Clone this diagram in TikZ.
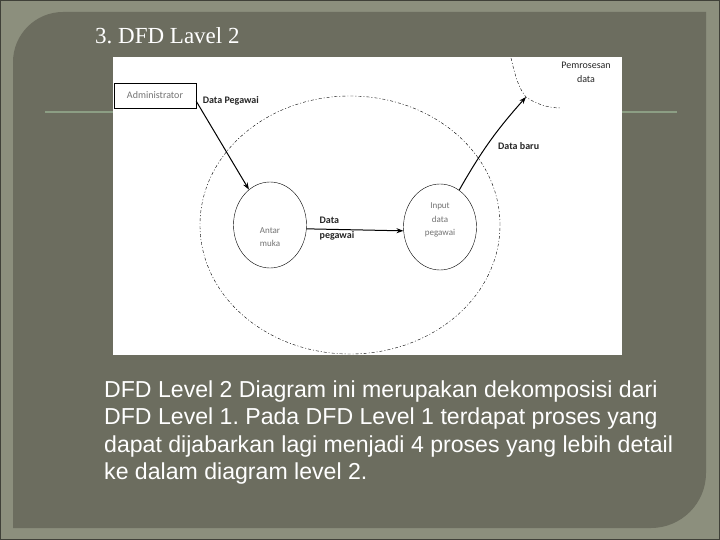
\documentclass[tikz,border=0pt]{standalone}
\usepackage{fontspec}
\setmainfont{Liberation Sans}
\newfontfamily\titlefont{Liberation Serif}
\newfontfamily\diagfont{Carlito}
\usetikzlibrary{arrows.meta,shapes.geometric}
\definecolor{slideout}{RGB}{140,143,125}
\definecolor{slidein}{RGB}{108,109,95}
\definecolor{slideline}{RGB}{140,158,132}
\definecolor{proctext}{RGB}{115,115,115}
\frenchspacing
\begin{document}
\begin{tikzpicture}[x=1pt,y=-1pt,
    proc/.style={ellipse,draw,thin,minimum width=73pt,minimum height=86pt,inner sep=0pt},
    procname/.style={align=center,inner sep=0pt,text=proctext,font=\diagfont\fontsize{9}{13.5}\selectfont},
    entity/.style={rectangle,draw,semithick,minimum width=82pt,minimum height=25pt,inner sep=0pt,text=proctext,font=\diagfont\fontsize{10}{12}\selectfont},
    flowlbl/.style={align=left,inner sep=0pt,text=black!85,font=\diagfont\bfseries\fontsize{10}{15}\selectfont},
    dashy/.style={draw,thin,dash pattern=on 3pt off 2pt on 1pt off 2pt},
    flow/.style={line width=1pt,-{Stealth[length=7pt,width=5pt]}}]
    \useasboundingbox (0,0) rectangle (720,540);
%   slide
    \fill [slideout] (0,0) rectangle (720,540);
    \draw [black!55!slideout] (0.5,0.5) rectangle (719.5,539.5);
    \fill [slidein] (13,528) -- (13,62) arc (180:270:50) -- (706,12) -- (706,473) arc (0:90:55) -- cycle;
    \draw [slideline, line width=2pt] (45,112) -- (677,112);
    \node [anchor=base west, inner sep=0pt, text=white, font=\titlefont\fontsize{23}{27}\selectfont] (title) at (95,43.5) {3. DFD Lavel 2};
    \fill [white] (113,57) rectangle (622,355);
%   diagram
    \node [entity] (admin) at (155,95.5) {Administrator};
    \node [proc, label={[procname, yshift=-12pt]center:{Antar\\muka}}] (antar) at (270,225) {};
    \node [proc, label={[procname, yshift=7pt]center:{Input\\data\\pegawai}}] (input) at (440,227) {};
    \node [dashy, ellipse, minimum width=300pt, minimum height=258pt] (sub) at (350,225) {};
    \coordinate (pros) at (526,97);
    \draw [dashy] (511,58) .. controls (516,80) and (520,90) .. (pros) .. controls (536,104) and (548,108) .. (561,108);
    \node [flowlbl, align=center, font=\diagfont\fontsize{10}{14}\selectfont] (proslbl) at (586,72) {Pemrosesan\\data};
%
    \draw [flow] (admin.-8) to node [flowlbl, pos=0, anchor=west, xshift=6pt] {Data Pegawai} (antar);
    \draw [flow] (antar.-6) to node [flowlbl, pos=0.13, anchor=west] {Data\\pegawai} (input.186);
    \draw [flow, bend left=6] (input) to node [flowlbl, pos=0.45, anchor=west, xshift=11pt] {Data baru} (pros);
%   text
    \node [anchor=north west, align=left, inner sep=0pt, text=white, font=\fontsize{23.1}{27.3}\selectfont] (desc) at (104,380.5) {DFD Level 2 Diagram ini merupakan dekomposisi dari\\DFD Level 1. Pada DFD Level 1 terdapat proses yang\\dapat dijabarkan lagi menjadi 4 proses yang lebih detail\\ke dalam diagram level 2.};
\end{tikzpicture}
\end{document}
